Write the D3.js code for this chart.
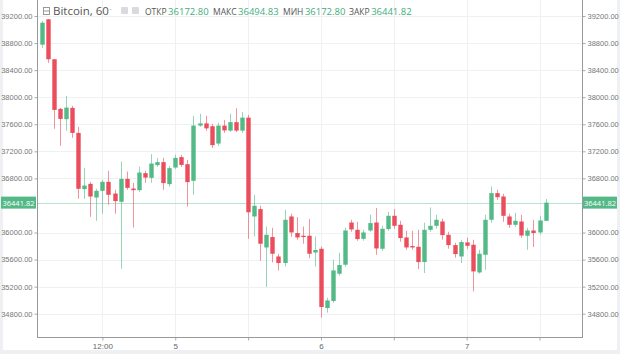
<!DOCTYPE html>
<html>
<head>
<meta charset="utf-8">
<script src="https://cdn.jsdelivr.net/npm/d3@7"></script>
<style>
  body { margin: 0; background: #fff; }
  svg { display: block; font-family: "Open Sans", "DejaVu Sans", sans-serif; }
</style>
</head>
<body>
<div id="chart"></div>
<script>
// hourly OHLC, index 0..83
const opens = [38776,39151,38561,37827,37675,37842,37472,36641,36719,36517,36616,36749,36576,36454,36793,36650,36626,36877,36808,36996,
  37040,36715,36960,37114,37010,36764,37580,37613,37571,37315,37580,37506,37631,37506,37698,36237,36346,35779,35933,35646,
  35549,36237,35992,35952,35952,35705,35760,34884,34988,35391,35524,36148,36040,35907,36030,36148,35760,36051,36247,36114,
  35927,35800,35789,35563,36040,36099,36163,35966,35814,35646,35853,35819,35410,35671,36188,36582,36532,36237,36114,36163,
  35952,36030,36001,36172.80];
const closes = [39101,38561,37812,37679,37846,37472,36646,36694,36532,36616,36749,36557,36464,36793,36660,36626,36886,36812,37019,37040,
  36730,36951,37103,36999,36745,37580,37613,37539,37291,37580,37509,37631,37506,37698,36299,36395,35834,35966,35686,35549,
  36188,36001,35927,35933,35686,35741,34899,34996,35439,35519,36030,36045,35903,36001,36139,35764,36055,36247,36099,35918,
  35779,35779,35563,36040,36099,36188,35962,35814,35681,35859,35804,35425,35686,36188,36582,36523,36247,36114,36173,35956,
  36030,35992,36178,36441.82];
const highs = [39126,39156,38561,37842,38019,37871,37561,36956,36749,36646,36778,36912,36631,37049,36901,36734,36975,36912,37158,37103,
  37103,36985,37148,37148,37074,37724,37753,37724,37605,37620,37664,37753,37837,37783,37738,36557,36395,36089,36070,35686,
  36336,36277,36228,36089,36198,35941,35789,35036,35597,35701,36070,36188,36158,36040,36262,36361,36099,36306,36346,36173,
  36026,36026,36040,36144,36370,36262,36203,36011,35848,35893,35922,35893,35745,36262,36680,36631,36572,36277,36291,36262,
  36070,36188,36247,36494.83];
const lows = [38728,38506,37532,37281,37506,37399,36498,36498,36232,36173,36277,36409,36277,35465,36631,36074,36601,36734,36734,36970,
  36631,36675,36941,36970,36384,36557,37561,37502,37251,37281,37472,37487,37487,37472,35907,35941,35583,35194,35558,35439,
  35498,35937,35893,35834,35622,35498,34741,34815,34962,35361,35494,36011,35878,35878,36011,35671,35730,36026,36055,35863,
  35745,35745,35460,35401,36011,36055,35893,35760,35627,35549,35760,35129,35391,35450,36144,36483,36158,36070,36085,35922,
  35745,35785,35966,36172.80];

// 36400 sits under the last-price badge, so it is left out
const priceTicks = [34800,35200,35600,36000,36800,37200,37600,38000,38400,38800,39200];
const timeTickIdx = [10,22,34,46,58,70,82];
const timeTickLabels = ["12:00","5","","6","","7",""];
const lastPrice = 36441.82;

const headerLabels = ["ОТКР","МАКС","МИН","ЗАКР"];
const headerValues = ["36172.80","36494.83","36172.80","36441.82"];

function init() {
    const width = 620, height = 354;
    const left = 37, right = 582, bottom = 337;
    const up = "#53b987", down = "#eb4d5c";

    const x = d3.scaleLinear().domain([-0.77, 89]).range([left, right]);
    const y = d3.scaleLinear().domain([34800, 39200]).range([313.7, 16]);

    const svg = d3.select("#chart").append("svg")
        .attr("width", width).attr("height", height);

    // outer frame
    svg.append("rect").attr("x", 0).attr("y", 0).attr("width", width).attr("height", height).attr("fill", "#eef0f4");
    svg.append("rect").attr("x", 3).attr("y", 0).attr("width", width - 6).attr("height", height - 4).attr("fill", "#fff");

    // grid
    svg.append("g").selectAll("line").data(priceTicks).join("line")
        .attr("x1", left).attr("x2", right)
        .attr("y1", d => Math.round(y(d)) + 0.5).attr("y2", d => Math.round(y(d)) + 0.5)
        .attr("stroke", "#eef1f4");
    svg.append("g").selectAll("line").data(timeTickIdx).join("line")
        .attr("x1", d => Math.round(x(d)) + 0.5).attr("x2", d => Math.round(x(d)) + 0.5)
        .attr("y1", 0).attr("y2", bottom)
        .attr("stroke", "#eef1f4");

    // last price line
    svg.append("line")
        .attr("x1", left).attr("x2", right)
        .attr("y1", Math.round(y(lastPrice)) + 0.5).attr("y2", Math.round(y(lastPrice)) + 0.5)
        .attr("stroke", "#b9e2cf");

    // candles
    const idx = d3.range(opens.length);
    const g = svg.append("g");
    g.selectAll("line").data(idx).join("line")
        .attr("x1", i => Math.round(x(i)) + 0.5).attr("x2", i => Math.round(x(i)) + 0.5)
        .attr("y1", i => y(highs[i])).attr("y2", i => y(lows[i]))
        .attr("stroke", i => closes[i] >= opens[i] ? up : down)
        .attr("stroke-opacity", 0.6);
    g.selectAll("rect").data(idx).join("rect")
        .attr("x", i => Math.round(x(i)) + 0.5 - 2.2)
        .attr("width", 4.4)
        .attr("y", i => y(Math.max(opens[i], closes[i])))
        .attr("height", i => Math.max(1, Math.abs(y(opens[i]) - y(closes[i]))))
        .attr("fill", i => closes[i] >= opens[i] ? up : down);

    // axes
    const yLeft = d3.axisLeft(y).tickValues(priceTicks).tickFormat(d3.format(".2f")).tickSize(3).tickPadding(2);
    const yRight = d3.axisRight(y).tickValues(priceTicks).tickFormat(d3.format(".2f")).tickSize(3).tickPadding(2);
    [[yLeft, left], [yRight, right]].forEach(([ax, px]) => {
        const a = svg.append("g").attr("transform", `translate(${px + 0.5},0)`).call(ax);
        a.select(".domain").remove();
        a.selectAll("line").attr("stroke", "#aaa");
        a.selectAll("text").attr("fill", "#777").attr("font-size", 7.5);
    });
    svg.append("line").attr("x1", left + 0.5).attr("x2", left + 0.5).attr("y1", 0).attr("y2", bottom).attr("stroke", "#999");
    svg.append("line").attr("x1", right + 0.5).attr("x2", right + 0.5).attr("y1", 0).attr("y2", bottom).attr("stroke", "#999");

    const xAxis = d3.axisBottom(x).tickValues(timeTickIdx).tickFormat((d, i) => timeTickLabels[i]).tickSize(3).tickPadding(3);
    const xa = svg.append("g").attr("transform", `translate(0,${bottom + 0.5})`).call(xAxis);
    xa.select(".domain").remove();
    xa.selectAll("line").attr("stroke", "#aaa");
    xa.selectAll("text").attr("fill", "#666").attr("font-size", 8);
    svg.append("line").attr("x1", left).attr("x2", right + 1).attr("y1", bottom + 0.5).attr("y2", bottom + 0.5).attr("stroke", "#999");

    // last price badges
    [[1, left - 1], [right + 1, width - 3]].forEach(([x0, x1]) => {
        svg.append("rect").attr("x", x0).attr("y", y(lastPrice) - 6).attr("width", x1 - x0).attr("height", 12)
            .attr("fill", up);
        svg.append("text").attr("x", (x0 + x1) / 2).attr("y", y(lastPrice) + 3)
            .attr("text-anchor", "middle").attr("fill", "#fff").attr("font-size", 7.5)
            .text(d3.format(".2f")(lastPrice));
    });

    // header
    const head = svg.append("g");
    head.append("rect").attr("x", 43.5).attr("y", 7.5).attr("width", 6).attr("height", 7)
        .attr("fill", "none").attr("stroke", "#999");
    head.append("line").attr("x1", 43.5).attr("x2", 49.5).attr("y1", 11).attr("y2", 11).attr("stroke", "#999");
    head.append("text").attr("x", 53).attr("y", 15).attr("font-size", 11.5).attr("fill", "#555").text("Bitcoin, 60");
    head.append("text").attr("x", 109).attr("y", 14).attr("font-size", 7).attr("fill", "#aaa").text("ˇ");
    [121, 132].forEach(px => head.append("rect").attr("x", px).attr("y", 7).attr("width", 7).attr("height", 7)
        .attr("fill", "#d8dade").attr("rx", 1));
    const labelX = [145, 213, 283, 349];
    headerLabels.forEach((t, i) => {
        const lab = head.append("text").attr("x", labelX[i]).attr("y", 15).attr("font-size", 8.5)
            .attr("fill", "#555").text(t);
        const w = lab.node().getComputedTextLength();
        head.append("text").attr("x", labelX[i] + w + 1.5).attr("y", 15).attr("font-size", 9.5)
            .attr("fill", "#3fae7e").text(headerValues[i]);
    });
}

window.onload = init;
</script>
</body>
</html>
